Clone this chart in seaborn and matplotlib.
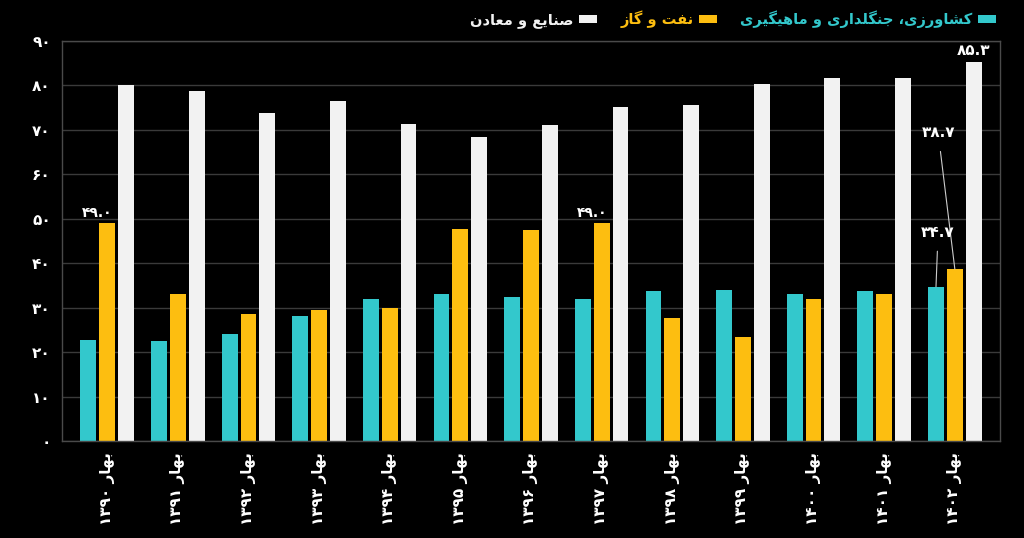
import numpy as np
import pandas as pd
import matplotlib
matplotlib.use("Agg")
import matplotlib.pyplot as plt
import seaborn as sns
from matplotlib.patches import Patch

# data
years = ["۱۳۹۰", "۱۳۹۱", "۱۳۹۲", "۱۳۹۳", "۱۳۹۴", "۱۳۹۵", "۱۳۹۶",
         "۱۳۹۷", "۱۳۹۸", "۱۳۹۹", "۱۴۰۰", "۱۴۰۱", "۱۴۰۲"]
agri = [22.8, 22.6, 24.1, 28.2, 31.9, 33.1, 32.4, 31.9, 33.8, 33.9, 33.1, 33.8, 34.7]
oil = [49.0, 33.1, 28.5, 29.5, 30.0, 47.6, 47.4, 49.0, 27.6, 23.4, 31.9, 33.0, 38.7]
industry = [80.1, 78.7, 73.7, 76.5, 71.3, 68.3, 71.1, 75.1, 75.7, 80.4, 81.7, 81.7, 85.3]
series_names = ["کشاورزی، جنگلداری و ماهیگیری", "نفت و گاز", "صنایع و معادن"]
season = "بهار"
colors = ["#33C8CC", "#FDBE10", "#F2F2F2"]

# tiny persian shaper (matplotlib does no arabic shaping / bidi)
FORMS = {
    'ا': ('\uFE8D', '\uFE8E', None, None),
    'ب': ('\uFE8F', '\uFE90', '\uFE91', '\uFE92'),
    'ت': ('\uFE95', '\uFE96', '\uFE97', '\uFE98'),
    'ج': ('\uFE9D', '\uFE9E', '\uFE9F', '\uFEA0'),
    'د': ('\uFEA9', '\uFEAA', None, None),
    'ر': ('\uFEAD', '\uFEAE', None, None),
    'ز': ('\uFEAF', '\uFEB0', None, None),
    'ش': ('\uFEB5', '\uFEB6', '\uFEB7', '\uFEB8'),
    'ص': ('\uFEB9', '\uFEBA', '\uFEBB', '\uFEBC'),
    'ع': ('\uFEC9', '\uFECA', '\uFECB', '\uFECC'),
    'ف': ('\uFED1', '\uFED2', '\uFED3', '\uFED4'),
    'ل': ('\uFEDD', '\uFEDE', '\uFEDF', '\uFEE0'),
    'م': ('\uFEE1', '\uFEE2', '\uFEE3', '\uFEE4'),
    'ن': ('\uFEE5', '\uFEE6', '\uFEE7', '\uFEE8'),
    'ه': ('\uFEE9', '\uFEEA', '\uFEEB', '\uFEEC'),
    'و': ('\uFEED', '\uFEEE', None, None),
    'ک': ('\uFB8E', '\uFB8F', '\uFB90', '\uFB91'),
    'گ': ('\uFB92', '\uFB93', '\uFB94', '\uFB95'),
    'ی': ('\uFBFC', '\uFBFD', '\uFBFE', '\uFBFF'),
}

def shape(word):
    out = []
    for i, ch in enumerate(word):
        if ch not in FORMS:
            out.append(ch)
            continue
        iso, fin, ini, med = FORMS[ch]
        prev = word[i-1] if i > 0 else ''
        nxt = word[i+1] if i < len(word)-1 else ''
        jp = prev in FORMS and FORMS[prev][2] is not None
        jn = ini is not None and nxt in FORMS
        if jp and jn:
            out.append(med)
        elif jp:
            out.append(fin)
        elif jn:
            out.append(ini)
        else:
            out.append(iso)
    return ''.join(out)

def rtl(text):
    return shape(text)[::-1]

def fa(num):
    s = str(num)
    return s.translate(str.maketrans("0123456789", "۰۱۲۳۴۵۶۷۸۹"))

labels = [y + " " + rtl(season) for y in years]

df = pd.DataFrame({
    "label": labels * 3,
    "series": [series_names[0]]*13 + [series_names[1]]*13 + [series_names[2]]*13,
    "value": agri + oil + industry,
})

plt.rcParams['font.family'] = ['DejaVu Sans']
fig = plt.figure(figsize=(10.24, 5.38), dpi=100)
fig.patch.set_facecolor("black")
ax = fig.add_axes([0.0605, 0.1803, 0.9161, 0.7435])
ax.set_facecolor("black")

sns.barplot(data=df, x="label", y="value", hue="series", hue_order=series_names,
            order=labels, palette=colors, saturation=1, width=0.8, gap=0.16,
            legend=False, ax=ax)

ax.set_xlim(-0.64, 12.64)
ax.set_ylim(0, 90)
ax.set_yticks(range(0, 91, 10))
ax.set_yticklabels([fa(v) for v in range(0, 91, 10)], color="white",
                   fontsize=11, fontweight="bold")
ax.set_xticks(range(len(labels)))
ax.set_xticklabels(labels, rotation=90, color="white", fontsize=11,
                   fontweight="bold", va="top", ha="center")
ax.tick_params(length=0, pad=8)
ax.set_xlabel("")
ax.set_ylabel("")
ax.yaxis.grid(True, color="#3a3a3a", lw=1)
ax.set_axisbelow(True)
for sp in ax.spines.values():
    sp.set_color("#4a4a4a")
    sp.set_linewidth(1)

# value labels
teal_bars = ax.containers[0]
oil_bars = ax.containers[1]
ind_bars = ax.containers[2]

def top(bar):
    return (bar.get_x() + bar.get_width()/2, bar.get_height())

for i in [0, 7]:
    ax.annotate(fa(f"{oil[i]:.1f}"), xy=top(oil_bars[i]), xytext=(-7, 2),
                textcoords="offset points", ha="center", va="bottom",
                color="white", fontsize=10, fontweight="bold")
ax.annotate(fa(f"{industry[12]:.1f}"), xy=top(ind_bars[12]), xytext=(0, 3),
            textcoords="offset points", ha="center", va="bottom",
            color="white", fontsize=11, fontweight="bold", annotation_clip=False)
ax.annotate(fa(f"{oil[12]:.1f}"), xy=top(oil_bars[12]), xytext=(-12, 98),
            textcoords="offset points", ha="center", va="center",
            color="white", fontsize=11, fontweight="bold",
            arrowprops=dict(arrowstyle="-", color="#cccccc", lw=0.8, shrinkA=6, shrinkB=0))
ax.annotate(fa(f"{agri[12]:.1f}"), xy=top(teal_bars[12]), xytext=(1.5, 39),
            textcoords="offset points", ha="center", va="center",
            color="white", fontsize=11, fontweight="bold",
            arrowprops=dict(arrowstyle="-", color="#cccccc", lw=0.8, shrinkA=6, shrinkB=0))

# legend, right to left
order = [2, 1, 0]
handles = [Patch(facecolor=colors[k], edgecolor="none") for k in order]
fig.legend(handles, [rtl(series_names[k]) for k in order], loc="upper right",
           bbox_to_anchor=(0.985, 1.005), ncol=3, frameon=False, markerfirst=False,
           labelcolor=[colors[k] for k in order],
           prop={"weight": "bold", "size": 10.5},
           handlelength=1.2, handleheight=0.5, columnspacing=1.6, handletextpad=0.4)

fig.savefig("out.png", dpi=100, facecolor="black")
